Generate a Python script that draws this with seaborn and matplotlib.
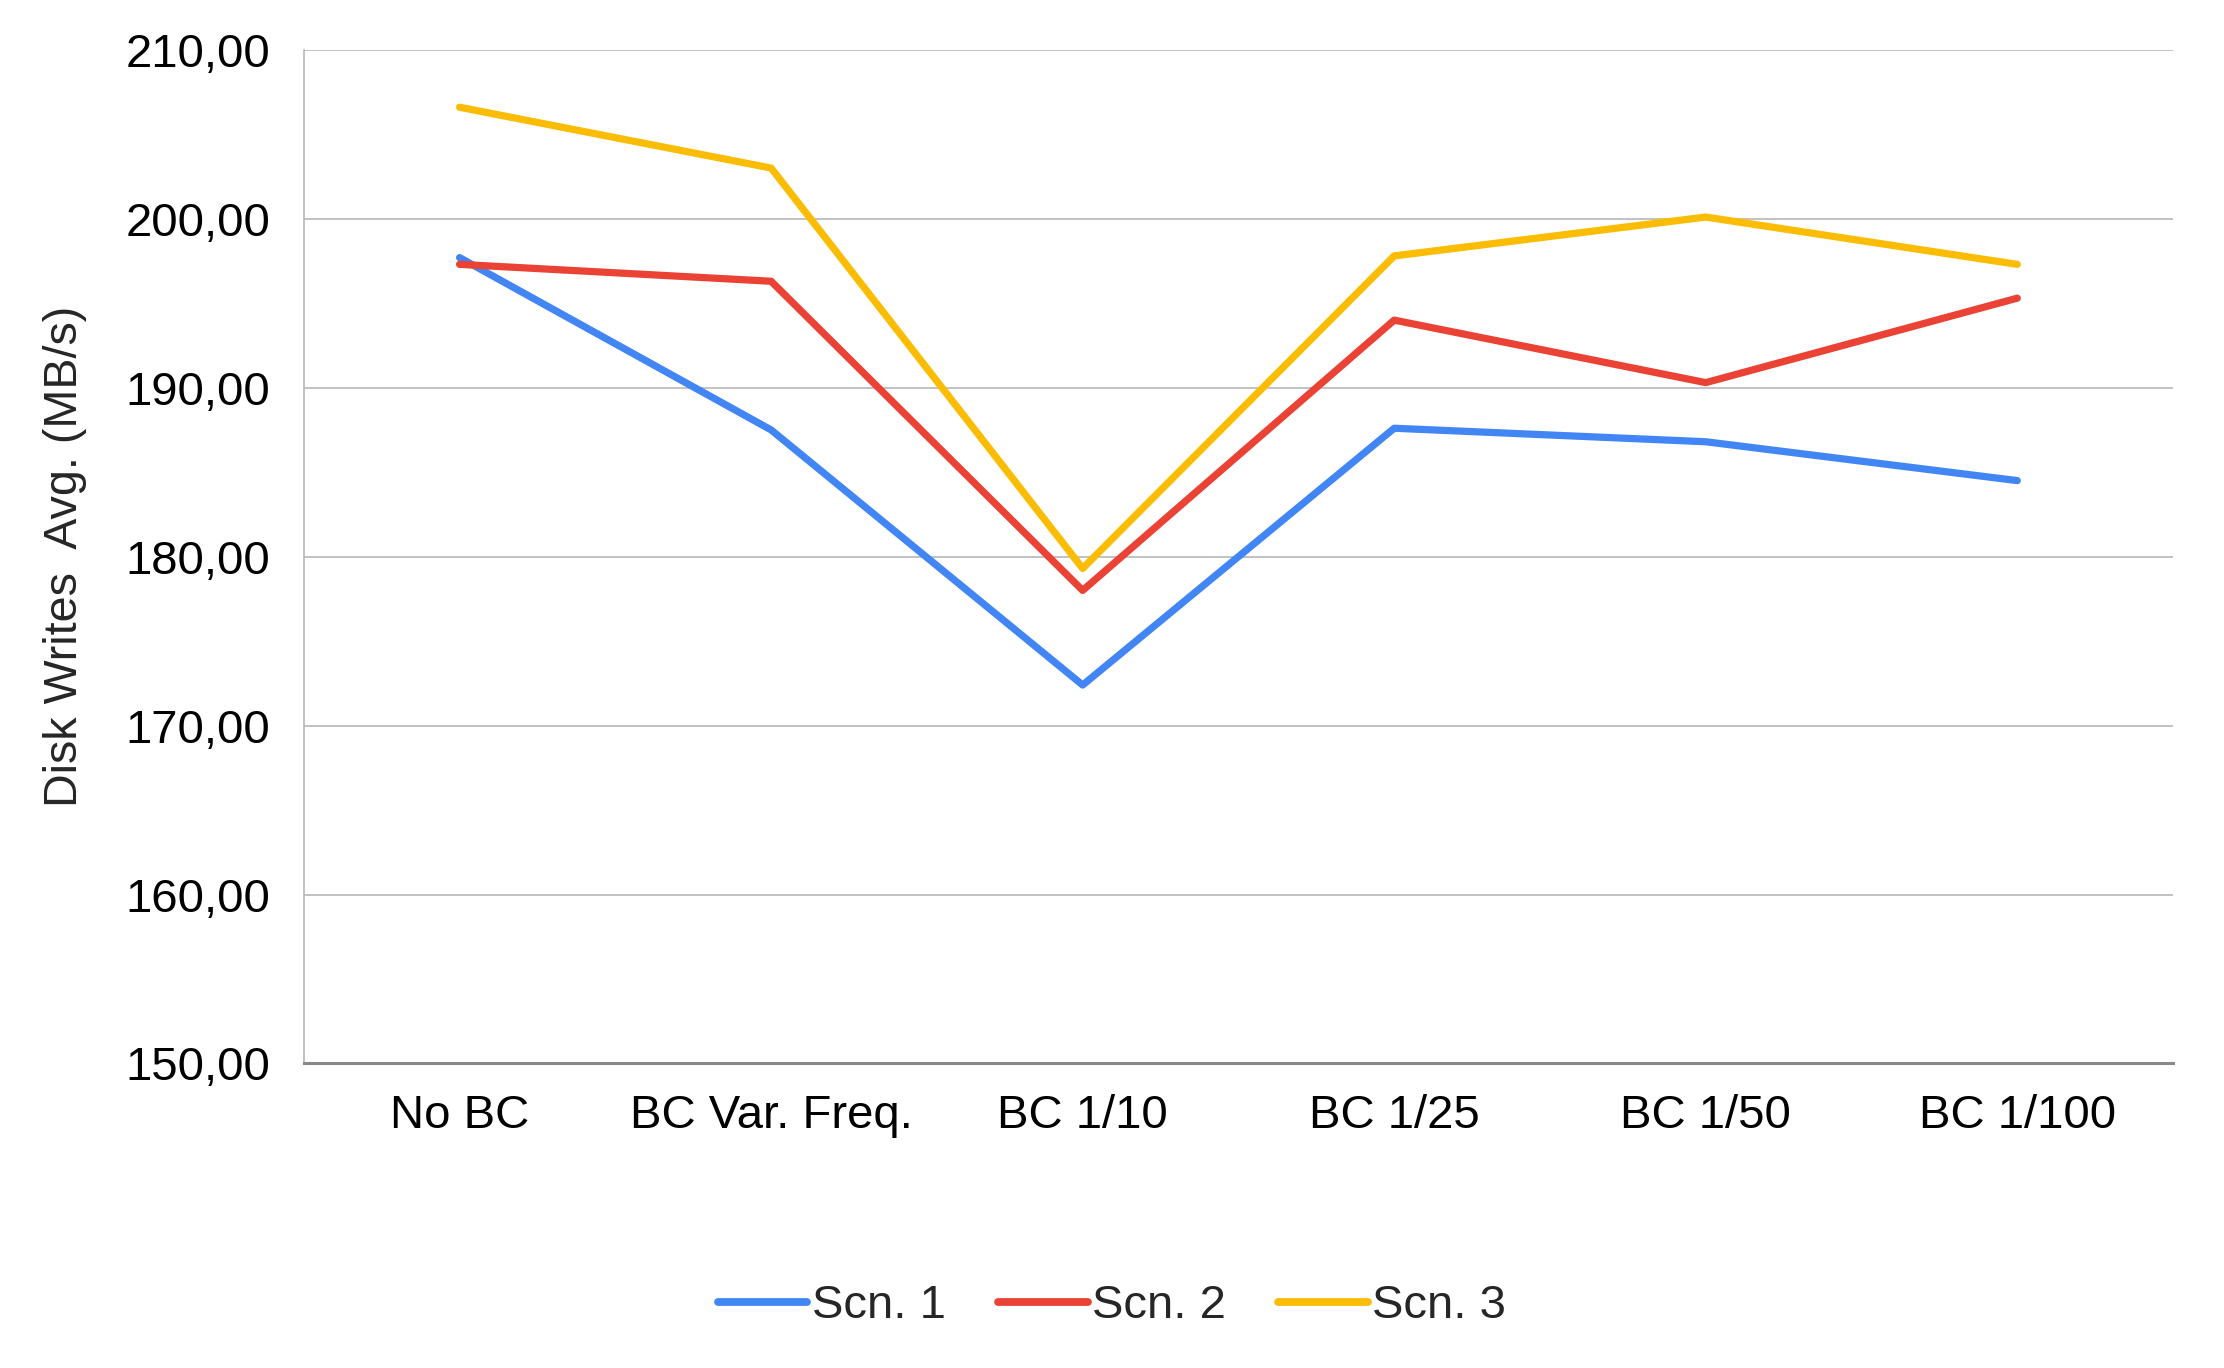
import seaborn as sns
import pandas as pd
import matplotlib.pyplot as plt
from matplotlib.ticker import FuncFormatter

categories = ["No BC", "BC Var. Freq.", "BC 1/10", "BC 1/25", "BC 1/50", "BC 1/100"]
scn1 = [197.7, 187.5, 172.4, 187.6, 186.8, 184.5]
scn2 = [197.3, 196.3, 178.0, 194.0, 190.3, 195.3]
scn3 = [206.6, 203.0, 179.3, 197.8, 200.1, 197.3]
series = ["Scn. 1", "Scn. 2", "Scn. 3"]
colors = ["#4285F4", "#EA4335", "#FBBC04"]

rows = []
for name, vals in zip(series, [scn1, scn2, scn3]):
    for c, v in zip(categories, vals):
        rows.append({"Config": c, "Value": v, "Series": name})
df = pd.DataFrame(rows)

sns.set_style("white")
plt.rcParams['font.family'] = ['Liberation Sans', 'DejaVu Sans']

fig = plt.figure(figsize=(11.12, 6.84), dpi=200)
ax = fig.add_axes([0.1366, 0.2226, 0.8405, 0.741])

sns.lineplot(data=df, x="Config", y="Value", hue="Series", palette=colors,
             sort=False, linewidth=2.6, ax=ax, legend=False)

ax.set_xlim(-0.5, 5.5)
ax.set_ylim(150, 210)
ax.set_yticks(range(150, 211, 10))
ax.yaxis.set_major_formatter(FuncFormatter(lambda v, p: f"{v:.2f}".replace(".", ",")))
ax.grid(axis="y", color="#b7b7b7", linewidth=0.6)
ax.set_axisbelow(True)
for s in ["top", "right"]:
    ax.spines[s].set_visible(False)
ax.spines["left"].set_color("#b7b7b7")
ax.spines["left"].set_linewidth(0.6)
ax.spines["bottom"].set_color("#888888")
ax.spines["bottom"].set_linewidth(1.1)
ax.tick_params(axis="both", length=0, labelsize=17, colors="black")
ax.tick_params(axis="y", pad=12)
ax.tick_params(axis="x", pad=11)
ax.set_xlabel("")
ax.set_ylabel("Disk Writes  Avg. (MB/s)", fontsize=16.8, labelpad=14)

handles = [plt.Line2D([], [], color=c, linewidth=2.8, solid_capstyle="round") for c in colors]
fig.legend(handles, series, loc="center", bbox_to_anchor=(0.5, 0.045), ncol=3,
           frameon=False, fontsize=17, handlelength=1.9, handletextpad=0.1,
           columnspacing=1.1)

fig.savefig("out.png", dpi=200)
